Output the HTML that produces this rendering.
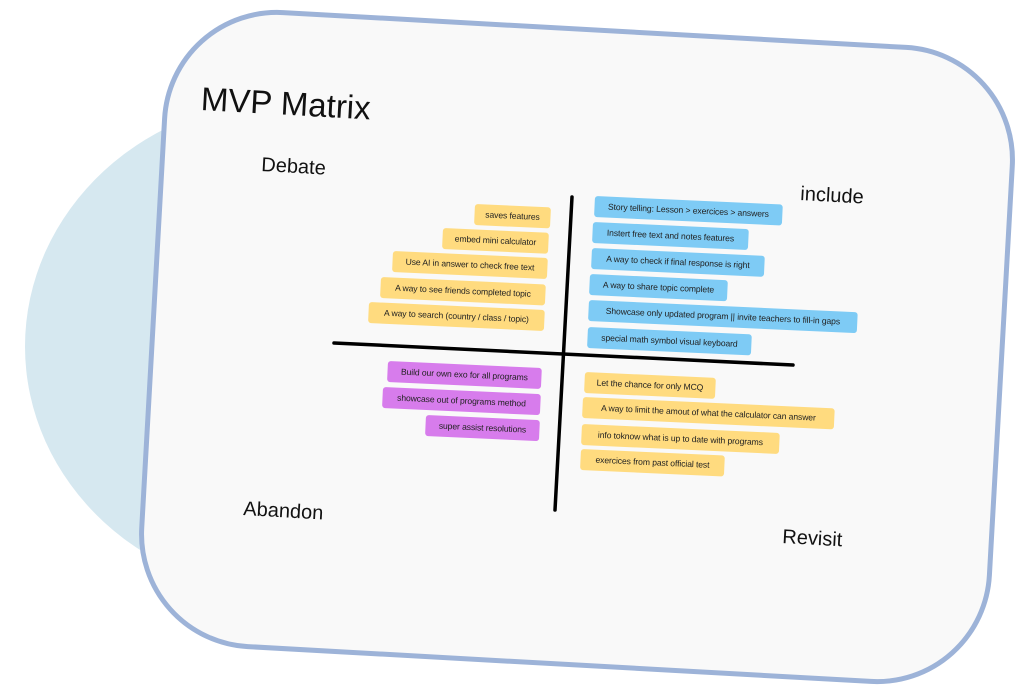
<!DOCTYPE html>
<html><head><meta charset="utf-8"><style>
html,body{margin:0;padding:0;width:1024px;height:690px;background:#fff;overflow:hidden;position:relative;font-family:"Liberation Sans",sans-serif}
.blob{position:absolute;left:25px;top:98px;width:540px;height:497px;border-radius:50%;background:#d6e8f0}
.card{position:absolute;left:150px;top:27px;width:844px;height:630px;border:5px solid #9db3d8;border-radius:115px;background:#f9f9f9;transform:rotate(3.2deg)}
.t{position:absolute;color:#111;transform:rotate(3.2deg);transform-origin:left top;white-space:nowrap;font-weight:300}
.s{position:absolute;height:21px;line-height:21px;font-size:8.6px;color:#222;border-radius:3px;transform:rotate(2.6deg);transform-origin:left top;white-space:nowrap;box-sizing:border-box;padding:0;text-align:center;letter-spacing:-0.1px}
.y{background:#ffdb7f}.b{background:#7ecbf5}.p{background:#d77cec}
</style></head><body>
<div class="blob"></div>
<div class="card"></div>
<svg width="1024" height="690" style="position:absolute;left:0;top:0">
<line x1="572" y1="197" x2="555" y2="510" stroke="#000" stroke-width="3.5" stroke-linecap="round"/>
<line x1="334" y1="343" x2="793" y2="365" stroke="#000" stroke-width="3.5" stroke-linecap="round"/>
</svg>
<div class="t" style="left:202px;top:80px;font-size:33px">MVP Matrix</div>
<div class="t" style="left:262px;top:154px;font-size:20px">Debate</div>
<div class="t" style="left:801px;top:183px;font-size:20px">include</div>
<div class="t" style="left:244px;top:498px;font-size:20px">Abandon</div>
<div class="t" style="left:783px;top:526px;font-size:20px">Revisit</div>

<div class="s y" style="left:475px;top:204px;width:76px">saves features</div>
<div class="s y" style="left:443px;top:228px;width:106px">embed mini calculator</div>
<div class="s y" style="left:393px;top:251px;width:155px">Use AI in answer to check free text</div>
<div class="s y" style="left:381px;top:277px;width:165px">A way to see friends completed topic</div>
<div class="s y" style="left:369px;top:302px;width:176px">A way to search (country / class / topic)</div>

<div class="s b" style="left:595px;top:196px;width:188px">Story telling: Lesson &gt; exercices &gt; answers</div>
<div class="s b" style="left:593px;top:222px;width:156px">Instert free text and notes features</div>
<div class="s b" style="left:592px;top:248px;width:173px">A way to check if final response is right</div>
<div class="s b" style="left:590px;top:274px;width:138px">A way to share topic complete</div>
<div class="s b" style="left:589px;top:300px;width:269px">Showcase only updated program || invite teachers to fill-in gaps</div>
<div class="s b" style="left:588px;top:327px;width:164px">special math symbol visual keyboard</div>

<div class="s p" style="left:388px;top:361px;width:154px">Build our own exo for all programs</div>
<div class="s p" style="left:383px;top:387px;width:158px">showcase out of programs method</div>
<div class="s p" style="left:426px;top:415px;width:114px">super assist resolutions</div>

<div class="s y" style="left:585px;top:372px;width:131px">Let the chance for only MCQ</div>
<div class="s y" style="left:583px;top:397px;width:252px">A way to limit the amout of what the calculator can answer</div>
<div class="s y" style="left:582px;top:424px;width:198px">info toknow what is up to date with programs</div>
<div class="s y" style="left:581px;top:449px;width:144px">exercices from past official test</div>
</body></html>
